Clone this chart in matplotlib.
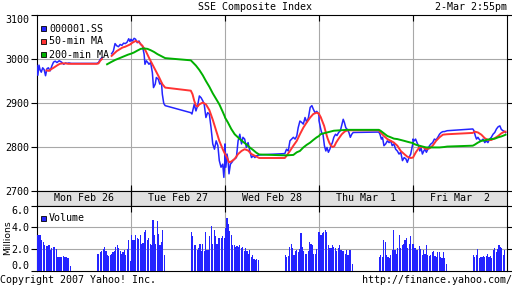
import matplotlib
matplotlib.use('Agg')
import matplotlib.pyplot as plt
from matplotlib.patches import Rectangle
import numpy as np

nan = np.nan

# one trading day on the axis = 9:30 .. 15:00 (330 minutes), lunch 11:30-13:00
DAY = 330
days = ['Mon Feb 26', 'Tue Feb 27', 'Wed Feb 28', 'Thu Mar  1', 'Fri Mar  2']

# 000001.SS, minutes after 9:30 for each day
index_t = [
    [0, 3, 7, 11, 15, 20, 25, 30, 35, 40, 46, 52, 58, 64, 70, 78, 86, 94, 100, 106, 112, 120,
     210, 216, 222, 228, 245, 262, 268, 274, 280, 286, 292, 298, 304, 310, 316, 322, 326, 330],
    [0, 5, 11, 16, 22, 28, 34, 40, 46, 49, 54, 59, 63, 69, 75, 79, 85, 89, 96, 101, 107, 110, 115, 120,
     210, 214, 218, 222, 228, 234, 240, 246, 252, 257, 263, 269, 275, 281, 287, 293, 299, 305, 310,
     316, 322, 326, 330],
    [0, 3, 7, 11, 14, 19, 24, 28, 34, 40, 46, 52, 58, 63, 69, 75, 81, 87, 93, 99, 105, 110, 120,
     210, 216, 222, 228, 234, 240, 246, 252, 257, 263, 269, 275, 281, 287, 293, 299, 305, 310, 316,
     322, 328, 330],
    [0, 5, 9, 14, 19, 24, 28, 33, 38, 42, 47, 52, 58, 63, 69, 75, 81, 85, 89, 94, 99, 105, 110, 115, 120,
     210, 214, 219, 223, 228, 234, 240, 246, 252, 257, 263, 269, 275, 281, 287, 293, 299, 305, 310,
     316, 322, 328, 330],
    [0, 5, 9, 14, 19, 24, 28, 33, 38, 42, 47, 52, 58, 63, 69, 75, 81, 87, 93, 99, 105, 110, 120,
     210, 214, 219, 223, 228, 234, 240, 246, 252, 257, 263, 269, 275, 281, 287, 293, 299, 305, 310,
     316, 322, 325],
]
index_p = [
    [2985, 2963, 2986, 2975, 2970, 2980, 2976, 2962, 2978, 2980, 2973, 2984, 2993, 2995, 2992, 2996,
     2993, 2988, 2991, 2990, 2991, 2990, 2990, 2992, 2999, 3003, nan, 3012, 3018, 3035, 3030, 3028,
     3033, 3031, 3036, 3035, 3038, 3046, 3040, 3042],
    [3045, 3041, 3047, 3045, 3037, 3041, 3033, 3030, 3011, 2988, 2996, 2992, 2988, 2992, 2969, 2935,
     2943, 2958, 2954, 2943, 2946, 2920, 2899, 2894, 2878, 2875, 2886, 2897, 2882, 2894, 2916, 2912,
     2905, 2897, 2867, 2878, 2875, 2844, 2807, 2795, 2814, 2803, 2769, 2754, 2761, 2731, 2776],
    [2807, 2754, 2784, 2769, 2739, 2761, 2765, 2769, 2773, 2776, 2814, 2829, 2807, 2822, 2818, 2799,
     2810, 2791, 2776, 2780, 2776, 2780, 2782, 2785, 2795, 2791, 2814, 2818, 2822, 2818, 2825, 2844,
     2859, 2856, 2852, 2867, 2856, 2867, 2890, 2894, 2886, 2878, 2881, 2876, 2870],
    [2860, 2844, 2833, 2829, 2803, 2791, 2799, 2788, 2795, 2803, 2810, 2822, 2829, 2826, 2833, 2837,
     2852, 2863, 2856, 2844, 2840, 2833, 2822, 2829, 2833, 2834, 2829, 2818, 2822, 2803, 2807, 2814,
     2810, 2814, 2803, 2807, 2795, 2791, 2784, 2788, 2769, 2776, 2773, 2765, 2776, 2784, 2803, 2810],
    [2818, 2814, 2818, 2810, 2803, 2791, 2799, 2784, 2791, 2795, 2788, 2795, 2803, 2807, 2810, 2818,
     2816, 2822, 2829, 2833, 2835, 2835, 2837, 2841, 2837, 2825, 2818, 2822, 2816, 2814, 2818, 2810,
     2814, 2810, 2818, 2822, 2829, 2833, 2841, 2846, 2848, 2840, 2837, 2835, 2833],
]

# 50-min MA
ma50_t = [
    [33, 42, 50, 58, 65, 72, 80, 90, 100, 110, 120, 210, 216, 222, 228, 245, 262, 270, 280, 290, 300,
     310, 320, 330],
    [0, 5, 16, 28, 40, 52, 63, 75, 87, 99, 110, 120, 210, 216, 222, 228, 234, 240, 252, 263, 275, 287,
     299, 310, 322, 330],
    [0, 7, 14, 22, 34, 46, 58, 69, 81, 93, 105, 120, 210, 216, 228, 240, 252, 263, 275, 287, 299, 310,
     322, 330],
    [0, 6, 12, 18, 24, 30, 36, 42, 48, 54, 60, 70, 80, 90, 100, 120, 210, 216, 228, 240, 252, 263, 275,
     287, 299, 310, 322, 330],
    [0, 10, 22, 34, 46, 58, 69, 81, 93, 105, 120, 210, 216, 228, 240, 252, 263, 275, 287, 299, 310,
     322, 325],
]
ma50_p = [
    [2974, 2973, 2977, 2980, 2983, 2986, 2989, 2990, 2990, 2989, 2989, 2989, 2990, 2996, 3000, nan,
     3007, 3012, 3018, 3022, 3026, 3028, 3031, 3034],
    [3035, 3037, 3041, 3038, 3030, 3018, 3003, 2988, 2973, 2958, 2943, 2935, 2928, 2920, 2905, 2894,
     2892, 2897, 2901, 2897, 2884, 2862, 2837, 2814, 2795, 2784],
    [2784, 2776, 2765, 2767, 2773, 2784, 2791, 2795, 2792, 2784, 2780, 2775, 2775, 2780, 2791, 2803,
     2814, 2829, 2844, 2856, 2867, 2875, 2878, 2876],
    [2875, 2868, 2858, 2848, 2833, 2820, 2810, 2803, 2800, 2802, 2810, 2820, 2829, 2835, 2838, 2838,
     2838, 2833, 2825, 2818, 2814, 2810, 2803, 2791, 2784, 2778, 2775, 2776],
    [2776, 2788, 2799, 2800, 2795, 2797, 2803, 2814, 2822, 2828, 2829, 2832, 2835, 2833, 2828, 2820,
     2816, 2816, 2820, 2825, 2831, 2835, 2835],
]

# 200-min MA
ma200_t = [
    [246, 260, 275, 290, 305, 320, 330],
    [0, 11, 22, 34, 46, 58, 69, 81, 93, 105, 120, 210, 216, 228, 240, 252, 263, 275, 287, 299, 310,
     322, 330],
    [0, 10, 22, 34, 52, 63, 75, 87, 99, 110, 120, 210, 216, 240, 252, 263, 275, 287, 299, 310, 322, 330],
    [0, 5, 16, 28, 40, 52, 75, 99, 120, 210, 216, 228, 240, 252, 263, 275, 287, 299, 310, 322, 330],
    [0, 11, 22, 34, 46, 69, 93, 110, 120, 210, 216, 228, 240, 252, 263, 275, 287, 299, 310, 322, 325],
]
ma200_p = [
    [2988, 2993, 2998, 3002, 3006, 3010, 3012],
    [3012, 3015, 3019, 3023, 3024, 3023, 3020, 3016, 3011, 3007, 3002, 2997, 2993, 2985, 2975, 2963,
     2950, 2937, 2922, 2909, 2897, 2880, 2868],
    [2867, 2856, 2841, 2829, 2818, 2812, 2806, 2799, 2793, 2787, 2783, 2781, 2781, 2782, 2788, 2791,
     2799, 2805, 2810, 2816, 2822, 2825],
    [2825, 2829, 2831, 2833, 2835, 2837, 2838, 2839, 2839, 2839, 2837, 2831, 2825, 2822, 2819, 2818,
     2816, 2814, 2812, 2810, 2809],
    [2808, 2805, 2803, 2801, 2799, 2799, 2799, 2800, 2801, 2803, 2805, 2810, 2814, 2815, 2817, 2818,
     2819, 2822, 2824, 2827, 2828],
]

# volume (millions), 5-minute bars, morning from 9:30 and afternoon from 13:00
vol_am = [
    [3.3, 3.3, 3.3, 2.8, 2.7, 2.4, 2.3, 2.3, 2.4, 1.9, 2.1, 2.2, 2.2, 2.0, 1.3, 1.3, 1.3, 1.3, 1.4, 1.3,
     1.3, 1.2, 1.2, 0.5],
    [3.3, 2.8, 2.8, 3.3, 3.0, 2.9, 3.3, 2.5, 2.6, 3.6, 3.8, 2.8, 3.0, 2.5, 2.4, 4.7, 3.3, 2.5, 4.6, 3.4,
     2.4, 2.7, 3.8, 1.5],
    [3.9, 4.9, 4.3, 3.7, 3.3, 2.4, 2.4, 2.2, 2.3, 2.2, 2.4, 2.1, 2.2, 1.8, 2.1, 1.8, 1.6, 1.9, 1.3, 1.5,
     1.1, 1.0, 1.1, 1.0],
    [3.6, 3.3, 3.45, 3.6, 3.75, 3.6, 2.4, 2.1, 2.1, 2.4, 2.2, 2.1, 1.8, 2.1, 2.4, 1.9, 1.8, 1.8, 1.6,
     1.9, 1.5, 1.9, 1.9, 0.6],
    [2.5, 2.1, 1.9, 1.9, 2.3, 2.0, 1.5, 1.9, 1.6, 2.4, 1.5, 1.4, 1.5, 1.7, 1.8, 1.4, 1.3, 1.7, 1.7, 1.3,
     1.2, 1.7, 1.2, 0.6],
]
vol_pm = [
    [1.6, 1.6, 1.7, 1.8, 2.0, 2.2, 1.8, 1.5, 1.4, 1.5, 1.6, 1.7, 1.8, 2.2, 2.4, 2.1, 1.8, 1.6, 1.7, 1.9,
     1.5, 2.0, 2.8, 0.9],
    [3.6, 3.2, 2.4, 2.4, 1.9, 2.1, 2.5, 1.8, 2.5, 1.8, 3.6, 1.9, 1.9, 3.2, 4.1, 2.5, 3.75, 3.2, 2.5, 3.0,
     3.0, 3.0, 3.2, 3.0],
    [1.5, 1.3, 1.4, 2.2, 2.5, 2.1, 1.5, 1.8, 1.9, 1.7, 2.0, 3.5, 2.2, 1.8, 1.6, 1.6, 1.8, 2.7, 2.5, 2.4,
     1.6, 1.6, 2.0, 3.6],
    [1.3, 1.5, 1.3, 2.8, 2.7, 1.5, 1.3, 1.2, 1.5, 1.9, 3.75, 1.9, 1.6, 2.1, 3.3, 2.1, 2.4, 2.5, 2.8, 3.0,
     2.1, 2.5, 3.2, 2.5],
    [1.5, 1.3, 1.5, 2.0, 1.2, 1.3, 1.3, 1.4, 1.3, 1.4, 1.6, 1.3, 1.4, 1.2, 1.9, 2.1, 1.7, 2.0, 2.4, 2.2,
     2.1, 1.5, 1.9],
]

price_ticks = [2700, 2800, 2900, 3000, 3100]
vol_ticks = [0, 2, 4, 6]

BLUE = '#2424ff'
RED = '#ff3333'
GREEN = '#00b000'
GRID = '#a8a8a8'
MONO = 'DejaVu Sans Mono'
FS = 7.2

W, H = 512, 288
fig = plt.figure(figsize=(W / 100, H / 100), dpi=100)
fig.patch.set_facecolor('white')


def box(x0, y0, x1, y1):
    # pixel box, origin top left -> figure rect
    return [x0 / W, 1 - y1 / H, (x1 - x0) / W, (y1 - y0) / H]


def flat(ts, vs):
    xs, ys = [], []
    for d in range(len(ts)):
        xs += [d * DAY + t for t in ts[d]]
        ys += list(vs[d])
    return np.array(xs, float), np.array(ys, float)


ax = fig.add_axes(box(37, 15, 507, 191))
axd = fig.add_axes(box(37, 191, 507, 205.5))
axv = fig.add_axes(box(37, 205.5, 507, 271))

day_edges = [DAY * i for i in range(1, 5)]

for a in (ax, axd, axv):
    a.set_xlim(0, DAY * 5)
    for s in a.spines.values():
        s.set_linewidth(0.8)
        s.set_color('black')

# price panel
x, y = flat(index_t, index_p)
ax.plot(x, y, color=BLUE, lw=1.1, zorder=3)
x, y = flat(ma50_t, ma50_p)
ax.plot(x, y, color=RED, lw=1.4, zorder=4)
x, y = flat(ma200_t, ma200_p)
ax.plot(x, y, color=GREEN, lw=1.4, zorder=5)

ax.set_ylim(2700, 3100)
ax.set_yticks(price_ticks)
ax.set_yticklabels([str(v) for v in price_ticks], family=MONO, fontsize=FS)
ax.get_yticklabels()[-1].set_va('top')
ax.set_xticks(day_edges)
ax.set_xticklabels([])
ax.tick_params(axis='y', which='both', left=True, right=True, direction='out', length=4,
               width=0.8, pad=1.5)
ax.tick_params(axis='x', top=True, bottom=True, direction='in', length=4, width=0.8)
for v in price_ticks[1:-1]:
    ax.axhline(v, color=GRID, lw=0.8, zorder=1)
for e in day_edges:
    ax.axvline(e, color=GRID, lw=0.8, zorder=1)

# date strip
axd.set_facecolor('#e0e0e0')
axd.set_ylim(0, 1)
axd.set_yticks([])
axd.set_xticks(day_edges)
axd.set_xticklabels([])
axd.tick_params(axis='x', top=True, bottom=True, direction='in', length=14, width=0.8)
for i, name in enumerate(days):
    axd.text(DAY * i + DAY / 2, 0.5, name, ha='center', va='center',
             family=MONO, fontsize=FS)

# volume panel
for d in range(5):
    xa = [d * DAY + 5 * i for i in range(len(vol_am[d]))]
    xp = [d * DAY + 210 + 5 * i for i in range(len(vol_pm[d]))]
    axv.bar(xa, vol_am[d], width=4, align='edge', color=BLUE, lw=0, antialiased=False, zorder=3)
    axv.bar(xp, vol_pm[d], width=4, align='edge', color=BLUE, lw=0, antialiased=False, zorder=3)
axv.set_ylim(0, 6)
axv.set_yticks(vol_ticks)
axv.set_yticklabels(['%.1f' % v for v in vol_ticks], family=MONO, fontsize=FS)
axv.get_yticklabels()[-1].set_va('top')
axv.get_yticklabels()[0].set_va('bottom')
axv.set_xticks(day_edges)
axv.set_xticklabels([])
axv.tick_params(axis='y', left=True, right=True, direction='out', length=4, width=0.8, pad=1.5)
axv.tick_params(axis='x', top=True, bottom=False, direction='in', length=4, width=0.8)
for v in vol_ticks[1:-1]:
    axv.axhline(v, color=GRID, lw=0.8, zorder=1)
for e in day_edges:
    axv.axvline(e, color=GRID, lw=0.8, zorder=1)
fig.text(7.5 / W, 1 - 238 / H, 'Millions', rotation=90, ha='center', va='center',
         family='DejaVu Sans', fontsize=6.6)

# legends drawn as small squares + text
def legend_item(px, py, color, label):
    fig.add_artist(Rectangle((px / W, 1 - (py + 2.6) / H), 5 / W, 5 / H,
                             transform=fig.transFigure, facecolor=color,
                             edgecolor='black', lw=0.6, zorder=10))
    fig.text((px + 8) / W, 1 - py / H, label, ha='left', va='center',
             family=MONO, fontsize=FS, zorder=10)

legend_item(41, 28.5, BLUE, '000001.SS')
legend_item(41, 41.5, RED, '50-min MA')
legend_item(41, 54.5, GREEN, '200-min MA')
legend_item(41, 218, BLUE, 'Volume')

# titles and footer
fig.text(255 / W, 1 - 7 / H, 'SSE Composite Index', ha='center', va='center',
         family=MONO, fontsize=FS)
fig.text(507 / W, 1 - 7 / H, '2-Mar 2:55pm', ha='right', va='center',
         family=MONO, fontsize=FS)
fig.text(0, 1 - 280 / H, 'Copyright 2007 Yahoo! Inc.', ha='left', va='center',
         family=MONO, fontsize=FS)
fig.text(512 / W, 1 - 280 / H, 'http://finance.yahoo.com/', ha='right', va='center',
         family=MONO, fontsize=FS)

fig.savefig('out.png', dpi=100)
